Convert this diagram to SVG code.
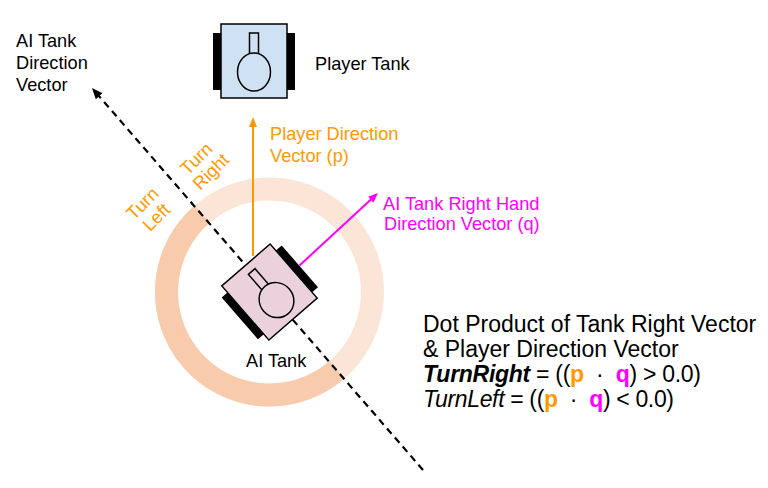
<svg xmlns="http://www.w3.org/2000/svg" width="768" height="488" viewBox="0 0 768 488">
<style>
text{font-family:"Liberation Sans",Arial,sans-serif;font-size:18.2px;fill:#000}
.or{fill:#FF9900}
.mg{fill:#FF00FF}
.big{font-size:23px;white-space:pre}
.track{fill:#000}
.body{stroke:#000;stroke-width:1.5}
.pl{fill:#CFE2F3}
.ai{fill:#EAD1DC}
</style>
<defs>
<marker id="ahBlack" markerUnits="userSpaceOnUse" markerWidth="11" markerHeight="9" refX="7" refY="4.5" orient="auto"><path d="M0,0 L11,4.5 L0,9 z" fill="#000"/></marker>
<marker id="ahOrange" markerUnits="userSpaceOnUse" markerWidth="10" markerHeight="8" refX="7" refY="4" orient="auto"><path d="M0,0 L10,4 L0,8 z" fill="#FF9900"/></marker>
<marker id="ahMagenta" markerUnits="userSpaceOnUse" markerWidth="10" markerHeight="8" refX="7" refY="4" orient="auto"><path d="M0,0 L10,4 L0,8 z" fill="#FF00FF"/></marker>
</defs>
<rect width="768" height="488" fill="#fff"/>
<g id="ring">
<circle cx="269.5" cy="292" r="103" fill="none" stroke="#FBE5D6" stroke-width="23"/>
<path d="M202.1,214.1 A103,103 0 0 0 336.9,369.9" fill="none" stroke="#F8CBAD" stroke-width="23"/>
</g>
<g id="connectors">
<line x1="423" y1="470" x2="94.6" y2="91" stroke="#000" stroke-width="2.2" stroke-dasharray="7 5" marker-end="url(#ahBlack)"/>
<line x1="253" y1="256" x2="253" y2="120" stroke="#FF9900" stroke-width="2" marker-end="url(#ahOrange)"/>
<line x1="299.5" y1="265.5" x2="375.8" y2="195" stroke="#FF00FF" stroke-width="2" marker-end="url(#ahMagenta)"/>
</g>
<g id="player-tank">
<g transform="translate(254,61)">
<rect class="track" x="-41" y="-28" width="8" height="57"/>
<rect class="track" x="33" y="-28" width="8" height="57"/>
<rect class="body pl" x="-33" y="-37" width="66" height="74"/>
<rect class="body pl" x="-4.5" y="-28" width="9" height="30"/>
<ellipse class="body pl" cx="0" cy="11" rx="16.5" ry="19"/>
</g>
<text x="315" y="70">Player Tank</text>
</g>
<g id="ai-tank">
<g transform="translate(269.5,292) rotate(-41) scale(0.97)">
<rect class="track" x="-41" y="-28" width="8" height="57"/>
<rect class="track" x="33" y="-28" width="8" height="57"/>
<rect class="body ai" x="-33" y="-37" width="66" height="74"/>
<rect class="body ai" x="-4.5" y="-28" width="9" height="30"/>
<ellipse class="body ai" cx="0" cy="11" rx="17.5" ry="18.5"/>
</g>
<text x="246" y="367">AI Tank</text>
</g>
<g id="label-ai-direction">
<text x="16" y="47">AI Tank</text>
<text x="16" y="69">Direction</text>
<text x="16" y="91">Vector</text>
</g>
<g id="label-player-direction">
<text class="or" x="270" y="140">Player Direction</text>
<text class="or" x="270" y="162">Vector (p)</text>
</g>
<g id="label-right-hand">
<text class="mg" x="383" y="210">AI Tank Right Hand</text>
<text class="mg" x="384" y="230">Direction Vector (q)</text>
</g>
<g id="label-turn-left" transform="translate(149.3,210.3) rotate(-45)">
<text class="or" x="0" y="-3.5" text-anchor="middle">Turn</text>
<text class="or" x="0" y="16" text-anchor="middle">Left</text>
</g>
<g id="label-turn-right" transform="translate(203.5,165.8) rotate(-45)">
<text class="or" x="0" y="-4" text-anchor="middle">Turn</text>
<text class="or" x="1" y="15.5" text-anchor="middle">Right</text>
</g>
<g id="formula">
<text class="big" x="423" y="332">Dot Product of Tank Right Vector</text>
<text class="big" x="423" y="357">&amp; Player Direction Vector</text>
<text class="big" x="423" y="382" textLength="278" lengthAdjust="spacing"><tspan font-weight="bold" font-style="italic">TurnRight</tspan> = ((<tspan class="or" font-weight="bold">p</tspan>&#160; · &#160;<tspan class="mg" font-weight="bold">q</tspan>) &gt; 0.0)</text>
<text class="big" x="423" y="407" textLength="251" lengthAdjust="spacing"><tspan font-style="italic">TurnLeft</tspan> = ((<tspan class="or" font-weight="bold">p</tspan>&#160; · &#160;<tspan class="mg" font-weight="bold">q</tspan>) &lt; 0.0)</text>
</g>
</svg>
